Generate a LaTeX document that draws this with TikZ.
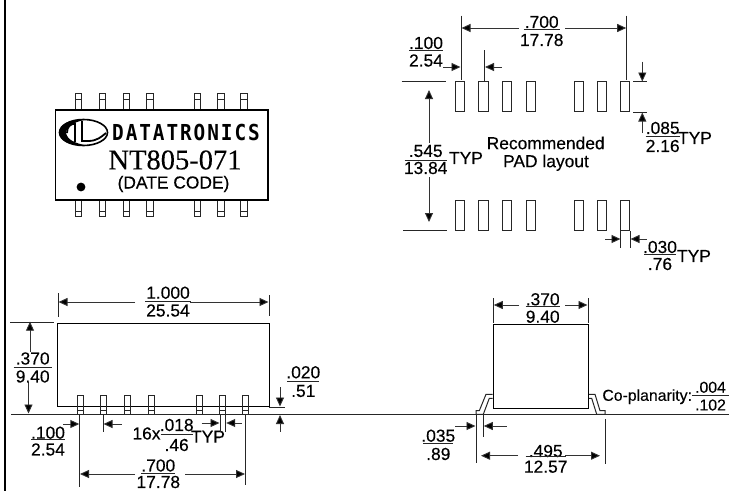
\documentclass[tikz,border=0pt]{standalone}
\usepackage{fontspec}
\usepackage{graphicx}
\setmainfont{Liberation Sans}[RawFeature={embolden=0.25}]
\newfontfamily\serifnt{Liberation Serif}[RawFeature={embolden=0.2}]
\newfontfamily\logofnt{DejaVu Sans Mono}[LetterSpace=10]
\usetikzlibrary{arrows.meta}
\tikzset{
  x=1pt,y=-1pt,
  lbl/.style={inner sep=0pt,font=\fontsize{17.4}{19}\selectfont},
  lblsmall/.style={inner sep=0pt,font=\fontsize{15.8}{17}\selectfont},
  ln/.style={line width=0.9pt,black!85},
  dimline/.style={line width=0.9pt,black!80,-{Triangle[length=9pt,width=8pt,fill=black]}},
  body/.style={line width=1.1pt,black,fill=none},
  pin/.style={line width=1pt,black!85}
}
\newcommand{\frc}[8]{% name x ytop yrule ybot halfwidth top bot
  \node[lbl] (#1t) at (#2,#3) {#7};
  \node[lbl] (#1b) at (#2,#5) {#8};
  \coordinate (#1l) at ({#2-#6},#4);
  \coordinate (#1r) at ({#2+#6},#4);
  \draw[ln] (#1l) -- (#1r);
}
\newcommand{\arw}[5]{% name x1 y1 x2 y2, tip at 2
  \coordinate (#1a) at (#2,#3);
  \coordinate (#1b) at (#4,#5);
  \draw[dimline] (#1a) -- (#1b);
}
\newcommand{\seg}[5]{%
  \coordinate (#1a) at (#2,#3);
  \coordinate (#1b) at (#4,#5);
  \draw[ln] (#1a) -- (#1b);
}
\newcommand{\pad}[5]{% name x1 y1 x2 y2
  \coordinate (#1a) at (#2,#3);
  \coordinate (#1b) at (#4,#5);
  \draw[pin] (#1a) rectangle (#1b);
}
\begin{document}
\begin{tikzpicture}
\useasboundingbox (0,0) rectangle (729,491);
\fill[white] (0,0) rectangle (729,491);
% left bar
\fill[black] (3.5,0) rectangle (6.2,491);

% ---- top-left chip
\foreach \i/\x in {1/78.5,2/102.5,3/126.5,4/150,5/197.5,6/221,7/244}{
  \pad{cu\i}{\x-3.2}{93.5}{\x+3.2}{110}
  \seg{cv\i}{\x-3.2}{99}{\x+3.2}{99}
  \pad{cd\i}{\x-3.2}{200}{\x+3.2}{216.5}
  \seg{cw\i}{\x-3.2}{211}{\x+3.2}{211}
}
\draw[body,fill=white] (55.5,110) rectangle (268,200);
% logo
\draw[line width=1.6pt] (83.5,132.5) ellipse [x radius=24,y radius=13];
\fill[black] (59.5,132.5) .. controls (59.5,122) and (75,118.5) .. (86,119.5)
  .. controls (75,122) and (67,125) .. (66,132.5)
  .. controls (67,140) and (75,143) .. (86,145.5)
  .. controls (75,146.5) and (59.5,143) .. (59.5,132.5) -- cycle;
\draw[line width=1.8pt] (67,133) .. controls (67,127) and (70,124) .. (75,123.5) -- (75,142)
  (82,121) -- (82,141) -- (88,141) .. controls (97,141) and (101,137) .. (106,133);
\node[inner sep=0pt,anchor=west] (logotxt) at (112,132) {\scalebox{0.88}[1]{\logofnt\bfseries\fontsize{22}{24}\selectfont DATATRONICS}};
\node[inner sep=0pt,font=\serifnt\fontsize{28.5}{30}\selectfont] (partno) at (175,160) {NT805-071};
\node[lbl] (datecode) at (173.5,184) {(DATE CODE)};
\fill[black] (81,187) circle (4.4);

% ---- pad layout
\foreach \i/\xa/\xb in {1/455/464,2/478.7/488.5,3/502.3/511.3,4/526.7/535.7,5/574/583.3,6/597/606.7,7/620.7/629.7}{
  \pad{pu\i}{\xa}{81.7}{\xb}{111.7}
  \pad{pd\i}{\xa}{200}{\xb}{230.7}
}
\seg{v1}{461}{15.7}{461}{80}
\seg{v2}{626.7}{15.7}{626.7}{80}
\arw{a1}{519}{28}{461.5}{28}
\arw{a2}{565}{28}{626.2}{28}
\frc{f1}{541.7}{22}{29}{40}{18}{.700}{17.78}
\seg{v3}{484.3}{50}{484.3}{81}
\arw{a3}{443}{67}{460.5}{67}
\arw{a4}{501.7}{67}{485}{67}
\frc{f2}{426}{43}{50.5}{60.5}{17}{.100}{2.54}
\seg{t1}{401.7}{81.7}{445.7}{81.7}
\seg{t2}{403}{230.7}{447}{230.7}
\arw{a5}{429}{143}{429}{90}
\arw{a6}{429}{177}{429}{222}
\frc{f3}{425.7}{151}{160}{168}{21}{.545}{13.84}
\node[lbl] (typ1) at (466,158) {TYP};
\node[lbl] (rec) at (545.7,143) {Recommended};
\node[lbl] (padl) at (546,162.7) {PAD layout};
\seg{t3}{633}{81.7}{647}{81.7}
\seg{t4}{633}{112}{647}{112}
\arw{a7}{642.3}{61.7}{642.3}{81.5}
\arw{a8}{642.3}{133}{642.3}{112.5}
\frc{f4}{662.7}{128}{136}{146}{17}{.085}{2.16}
\node[lbl] (typ2) at (695,138) {TYP};
\seg{v4}{620.7}{231}{620.7}{247.7}
\seg{v5}{630.3}{231}{630.3}{247.7}
\arw{a9}{605}{239}{620.5}{239}
\arw{a10}{646.7}{239}{630.5}{239}
\frc{f5}{660}{247}{254.5}{264}{16}{.030}{.76}
\node[lbl] (typ3) at (694,256) {TYP};

% ---- ground line
\seg{gnd}{11}{414.7}{729}{414.7}

% ---- bottom-left side view
\draw[body] (57.3,323.3) rectangle (269.3,406.7);
\foreach \i/\x in {1/80,2/103.3,3/127.7,4/151,5/199,6/222.3,7/245.3}{
  \pad{su\i}{\x-3}{395.7}{\x+3}{414.3}
  \seg{sw\i}{\x-3}{410}{\x+3}{410}
}
\seg{v6}{58}{293.3}{58}{316.7}
\seg{v7}{269}{295}{269}{316}
\arw{b1}{135}{302}{58.5}{302}
\arw{b2}{190}{302}{268.5}{302}
\frc{g1}{168}{292.7}{301.5}{310.5}{23}{1.000}{25.54}
\seg{t5}{10}{322.7}{54}{322.7}
\arw{b3}{30}{351.7}{30}{321.7}
\arw{b4}{28.5}{381.7}{28.5}{413.5}
\frc{g2}{32.7}{358.5}{367}{376.5}{19}{.370}{9.40}
\frc{g3}{303.3}{372.3}{381.3}{391}{16}{.020}{.51}
\seg{t6}{269}{407}{285}{407}
\arw{b5}{280}{387}{280}{406.5}
\arw{b6}{280}{431.7}{280}{415}
\frc{g4}{48}{432.7}{439.3}{449.5}{17}{.100}{2.54}
\arw{b7}{63}{424}{79.3}{424}
\seg{v8}{79.5}{415}{79.5}{486.7}
\seg{v9}{103}{415}{103}{431.7}
\arw{b8}{121.7}{424}{103.5}{424}
\node[lbl] (sx) at (146.5,433.5) {16x};
\frc{g5}{176.7}{425}{434}{445}{16}{.018}{.46}
\node[lbl] (typ4) at (208,436.7) {TYP};
\arw{b9}{201.7}{423}{219.5}{423}
\arw{b10}{241.7}{423}{226.2}{423}
\seg{v10}{220}{415}{220}{431.7}
\seg{v11}{225.7}{415}{225.7}{431.7}
\seg{v12}{245.7}{415}{245.7}{485}
\arw{b11}{135}{474}{80}{474}
\arw{b12}{185}{474}{245}{474}
\frc{g6}{158.3}{465.5}{473.5}{482}{17}{.700}{17.78}

% ---- bottom-right end view
\draw[body] (493.3,324.3) rectangle (588.3,408.3);
\draw[pin] (492.7,394.3) -- (486,394.3) -- (479.3,410.7) -- (476,410.7) -- (476,414.3) -- (483.3,414.3) -- (489.3,398.3) -- (492.7,398.3);
\draw[pin] (589,394.3) -- (595,394.3) -- (600,410.7) -- (605,410.7) -- (605,414.3) -- (596.7,414.3) -- (591.7,398.3) -- (589,398.3);
\seg{v13}{493.3}{298}{493.3}{323}
\seg{v14}{588}{298}{588}{323}
\arw{c1}{519}{305}{493.8}{305}
\arw{c2}{565}{305}{587.5}{305}
\frc{h1}{542.7}{299.3}{306}{316.7}{17}{.370}{9.40}
\seg{v15}{476}{415}{476}{463}
\seg{v16}{483.3}{415}{483.3}{436.7}
\seg{v17}{605}{419}{605}{464}
\arw{c3}{455}{426}{475.5}{426}
\arw{c4}{506.7}{426}{483.8}{426}
\frc{h2}{438.3}{435.7}{443.5}{454}{15}{.035}{.89}
\arw{c5}{518}{455.7}{481}{455.7}
\arw{c6}{565}{455.7}{600}{455.7}
\frc{h3}{545.7}{451}{456.7}{466.7}{20}{.495}{12.57}
\node[lblsmall] (cop) at (647.2,396.7) {Co-planarity:};
\node[lblsmall] (h4t) at (710.5,387.3) {.004};
\node[lblsmall] (h4b) at (710.5,405) {.102};
\coordinate (h4l) at (692,395.5);
\coordinate (h4r) at (729,395.5);
\draw[ln] (h4l) -- (h4r);
\end{tikzpicture}
\end{document}
